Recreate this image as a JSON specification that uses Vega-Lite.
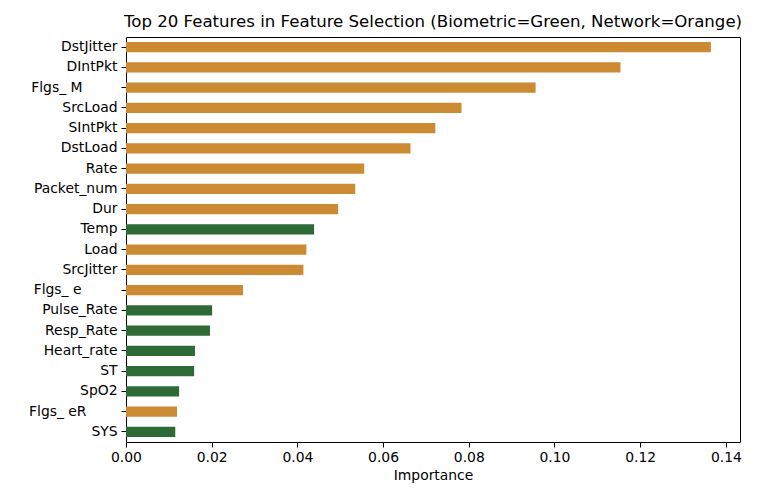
{
  "$schema": "https://vega.github.io/schema/vega-lite/v6.json",
  "autosize": {"type": "none"},
  "padding": {"left": 126, "top": 37, "right": 18, "bottom": 58},
  "width": 614,
  "height": 405,
  "background": "white",
  "title": {
    "text": "Top 20 Features in Feature Selection (Biometric=Green, Network=Orange)",
    "font": "DejaVu Sans",
    "fontSize": 16.6,
    "fontWeight": "normal",
    "color": "black",
    "anchor": "middle",
    "offset": 6
  },
  "data": {
    "values": [
      {"feature": "DstJitter", "importance": 0.1365, "type": "Network"},
      {"feature": "DIntPkt", "importance": 0.1154, "type": "Network"},
      {"feature": "Flgs_ M", "importance": 0.0956, "type": "Network"},
      {"feature": "SrcLoad", "importance": 0.0783, "type": "Network"},
      {"feature": "SIntPkt", "importance": 0.0722, "type": "Network"},
      {"feature": "DstLoad", "importance": 0.0664, "type": "Network"},
      {"feature": "Rate", "importance": 0.0556, "type": "Network"},
      {"feature": "Packet_num", "importance": 0.0535, "type": "Network"},
      {"feature": "Dur", "importance": 0.0495, "type": "Network"},
      {"feature": "Temp", "importance": 0.0439, "type": "Biometric"},
      {"feature": "Load", "importance": 0.0421, "type": "Network"},
      {"feature": "SrcJitter", "importance": 0.0414, "type": "Network"},
      {"feature": "Flgs_ e", "importance": 0.0273, "type": "Network"},
      {"feature": "Pulse_Rate", "importance": 0.0201, "type": "Biometric"},
      {"feature": "Resp_Rate", "importance": 0.0196, "type": "Biometric"},
      {"feature": "Heart_rate", "importance": 0.0161, "type": "Biometric"},
      {"feature": "ST", "importance": 0.0159, "type": "Biometric"},
      {"feature": "SpO2", "importance": 0.0124, "type": "Biometric"},
      {"feature": "Flgs_ eR", "importance": 0.0119, "type": "Network"},
      {"feature": "SYS", "importance": 0.0115, "type": "Biometric"}
    ]
  },
  "mark": {"type": "bar"},
  "encoding": {
    "y": {
      "field": "feature",
      "type": "nominal",
      "sort": {"field": "importance", "order": "descending"},
      "scale": {"paddingInner": 0.5, "paddingOuter": 0.25},
      "axis": {
        "title": null,
        "labelFont": "DejaVu Sans",
        "labelFontSize": 13.9,
        "labelColor": "black",
        "tickColor": "black",
        "tickSize": 5,
        "labelPadding": {
          "condition": [
            {"test": "datum.value == 'Flgs_ eR'", "value": 35},
            {"test": "datum.value == 'Flgs_ e'", "value": 40},
            {"test": "datum.value == 'Flgs_ M'", "value": 39}
          ],
          "value": 4
        },
        "domain": false,
        "grid": false
      }
    },
    "x": {
      "field": "importance",
      "type": "quantitative",
      "scale": {"domain": [0, 0.1433], "nice": false, "zero": true},
      "axis": {
        "title": "Importance",
        "titleFont": "DejaVu Sans",
        "titleFontSize": 13.9,
        "titleFontWeight": "normal",
        "titleColor": "black",
        "titlePadding": 5,
        "values": [0, 0.02, 0.04, 0.06, 0.08, 0.1, 0.12, 0.14],
        "format": ".2f",
        "labelFont": "DejaVu Sans",
        "labelFontSize": 13.9,
        "labelColor": "black",
        "labelPadding": 3,
        "tickColor": "black",
        "tickSize": 5,
        "domain": false,
        "grid": false,
        "labelFlush": false
      }
    },
    "color": {
      "field": "type",
      "type": "nominal",
      "scale": {"domain": ["Network", "Biometric"], "range": ["#CC8A33", "#2E6A35"]},
      "legend": null
    }
  },
  "config": {
    "view": {"stroke": "black", "strokeWidth": 1}
  }
}
